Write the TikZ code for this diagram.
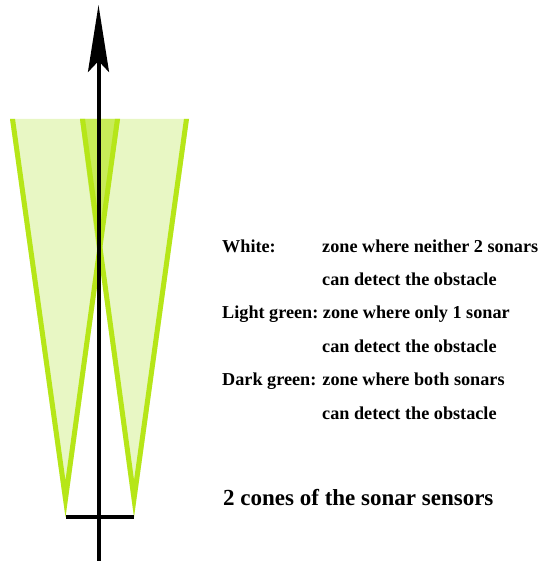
\documentclass[tikz,border=0pt]{standalone}
\usepackage{fontspec}
\setmainfont{Liberation Serif}
\usetikzlibrary{arrows.meta}
\definecolor{conefill}{RGB}{232,247,196}
\definecolor{conedark}{RGB}{200,236,88}
\definecolor{coneedge}{RGB}{182,230,24}
\tikzset{
  legend/.style={anchor=base west, inner sep=0pt, font=\bfseries\fontsize{18.2}{20}\selectfont},
  titletext/.style={anchor=base west, inner sep=0pt, font=\bfseries\fontsize{23}{26}\selectfont},
  axis/.style={line width=4pt, black}
}
\begin{document}
\begin{tikzpicture}[x=1pt,y=-1pt]
\useasboundingbox (0,0) rectangle (543,561);
% cone corners
\coordinate (LA) at (10,119);
\coordinate (LB) at (120,119);
\coordinate (LC) at (65.5,517);
\coordinate (RA) at (80,119);
\coordinate (RB) at (189,119);
\coordinate (RC) at (134,517);
\coordinate (X) at (98.6,262.5);
% fills
\fill[conefill] (LA) -- (LB) -- (LC) -- cycle;
\fill[conefill] (RA) -- (RB) -- (RC) -- cycle;
\fill[conedark] (RA) -- (LB) -- (X) -- cycle;
% edges (inside each cone)
\begin{scope}
  \clip (LA) -- (LB) -- (LC) -- cycle;
  \draw[coneedge, line width=10pt] (LA) -- (LC) -- (LB);
\end{scope}
\begin{scope}
  \clip (RA) -- (RB) -- (RC) -- cycle;
  \draw[coneedge, line width=10pt] (RA) -- (RC) -- (RB);
\end{scope}
% axis
\coordinate (bot) at (98.5,561);
\coordinate (tip) at (98.5,5);
\draw[axis, -{Stealth[length=67pt, width=21pt, inset=11pt]}] (bot) -- (tip);
\draw[axis] (LC) -- (RC);
% legend
\node[legend] (w1) at (222,252) {White:};
\node[legend] (w2) at (322,252) {zone where neither 2 sonars};
\node[legend] (w3) at (322,285.4) {can detect the obstacle};
\node[legend] (l1) at (222,318.8) {Light green:\hspace{-1.5pt} zone where only 1 sonar};
\node[legend] (l2) at (322,352.2) {can detect the obstacle};
\node[legend] (d1) at (222,385.6) {Dark green: zone where both sonars};
\node[legend] (d2) at (322,419) {can detect the obstacle};
\node[titletext] (t) at (223,505) {2 cones of the sonar sensors};
\end{tikzpicture}
\end{document}
